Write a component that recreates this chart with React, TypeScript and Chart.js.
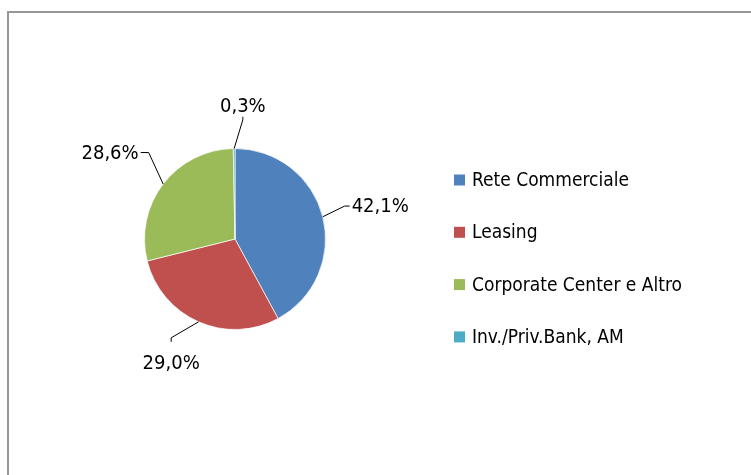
import React, { useEffect, useRef } from "react";
import { Chart, registerables } from "chart.js";

Chart.register(...registerables);

const categories = ["Rete Commerciale", "Leasing", "Corporate Center e Altro", "Inv./Priv.Bank, AM"];
const shares = [42.1, 29.0, 28.6, 0.3];
const labelsText = ["42,1%", "29,0%", "28,6%", "0,3%"];
const colors = ["#4F81BD", "#C0504D", "#9BBB59", "#4BACC6"];

// label placement style (leader elbow: angle shift in degrees, radius factor)
const elbowShift = [-2.5, 9.1, 7.6, 4.3];
const elbowRadius = [1.265, 1.3, 1.35, 1.32];
const FONT = "'DejaVu Sans Condensed', 'DejaVu Sans', sans-serif";

const framePlugin = {
  id: "frame",
  beforeDraw(chart: any) {
    const ctx = chart.ctx;
    ctx.save();
    ctx.fillStyle = "#ffffff";
    ctx.fillRect(0, 0, chart.width, chart.height);
    ctx.strokeStyle = "#979797";
    ctx.lineWidth = 2;
    ctx.strokeRect(8, 12, chart.width + 20, chart.height + 20);
    ctx.restore();
  },
};

const labelPlugin = {
  id: "pieLabels",
  afterDraw(chart: any) {
    const ctx = chart.ctx;
    const meta = chart.getDatasetMeta(0);
    ctx.save();
    ctx.strokeStyle = "#000";
    ctx.lineWidth = 1;
    ctx.fillStyle = "#000";
    ctx.font = `20px ${FONT}`;
    meta.data.forEach((arc: any, i: number) => {
      const { x, y, startAngle, endAngle, outerRadius } = arc.getProps(
        ["x", "y", "startAngle", "endAngle", "outerRadius"],
        true
      );
      const mid = (startAngle + endAngle) / 2;
      const sx = x + Math.cos(mid) * outerRadius;
      const sy = y + Math.sin(mid) * outerRadius;
      const ea = mid + (elbowShift[i] * Math.PI) / 180;
      const er = outerRadius * elbowRadius[i];
      const ex = x + Math.cos(ea) * er;
      const ey = y + Math.sin(ea) * er;
      let deg = ((mid + Math.PI / 2) * 180) / Math.PI;
      deg = ((deg % 360) + 360) % 360;
      ctx.beginPath();
      ctx.moveTo(sx, sy);
      ctx.lineTo(ex, ey);
      const txt = labelsText[i];
      if (deg >= 45 && deg < 135) {
        ctx.lineTo(ex + 5, ey);
        ctx.stroke();
        ctx.textAlign = "left";
        ctx.textBaseline = "middle";
        ctx.fillText(txt, ex + 7, ey + 1);
      } else if (deg >= 225 && deg < 315) {
        ctx.lineTo(ex - 8, ey);
        ctx.stroke();
        ctx.textAlign = "right";
        ctx.textBaseline = "middle";
        ctx.fillText(txt, ex - 10, ey + 1);
      } else if (deg >= 135 && deg < 225) {
        ctx.lineTo(ex, ey + 4);
        ctx.stroke();
        ctx.textAlign = "center";
        ctx.textBaseline = "alphabetic";
        ctx.fillText(txt, ex, ey + 31);
      } else {
        ctx.lineTo(ex, ey - 3);
        ctx.stroke();
        ctx.textAlign = "center";
        ctx.textBaseline = "alphabetic";
        ctx.fillText(txt, ex, ey - 8);
      }
    });
    ctx.restore();
  },
};

const legendPlugin = {
  id: "sideLegend",
  afterDraw(chart: any) {
    const ctx = chart.ctx;
    const labels: string[] = chart.data.labels;
    const bg: string[] = chart.data.datasets[0].backgroundColor;
    const x0 = 454;
    const y0 = 180;
    const step = 52.3;
    const box = 11;
    ctx.save();
    ctx.font = `19px ${FONT}`;
    ctx.textAlign = "left";
    ctx.textBaseline = "middle";
    labels.forEach((lab, i) => {
      const cy = y0 + i * step;
      ctx.fillStyle = bg[i];
      ctx.fillRect(x0, cy - box / 2, box, box);
      ctx.fillStyle = "#000";
      ctx.fillText(lab, x0 + 18, cy + 1);
    });
    ctx.restore();
  },
};

export default function App() {
  const ref = useRef<HTMLCanvasElement | null>(null);
  useEffect(() => {
    document.body.style.margin = "0";
    if (!ref.current) return;
    const chart = new Chart(ref.current, {
      type: "pie",
      data: {
        labels: categories,
        datasets: [
          {
            data: shares,
            backgroundColor: colors,
            borderColor: "rgba(255,255,255,0.7)",
            borderWidth: 1,
          },
        ],
      },
      options: {
        responsive: false,
        animation: false,
        layout: { padding: { left: 144, top: 148, right: 425, bottom: 145 } },
        plugins: {
          legend: { display: false },
          tooltip: { enabled: false },
        },
      },
      plugins: [framePlugin, labelPlugin, legendPlugin],
    });
    return () => chart.destroy();
  }, []);
  return (
    <div style={{ width: 751, height: 475 }}>
      <canvas ref={ref} width={751} height={475} style={{ display: "block" }} />
    </div>
  );
}
